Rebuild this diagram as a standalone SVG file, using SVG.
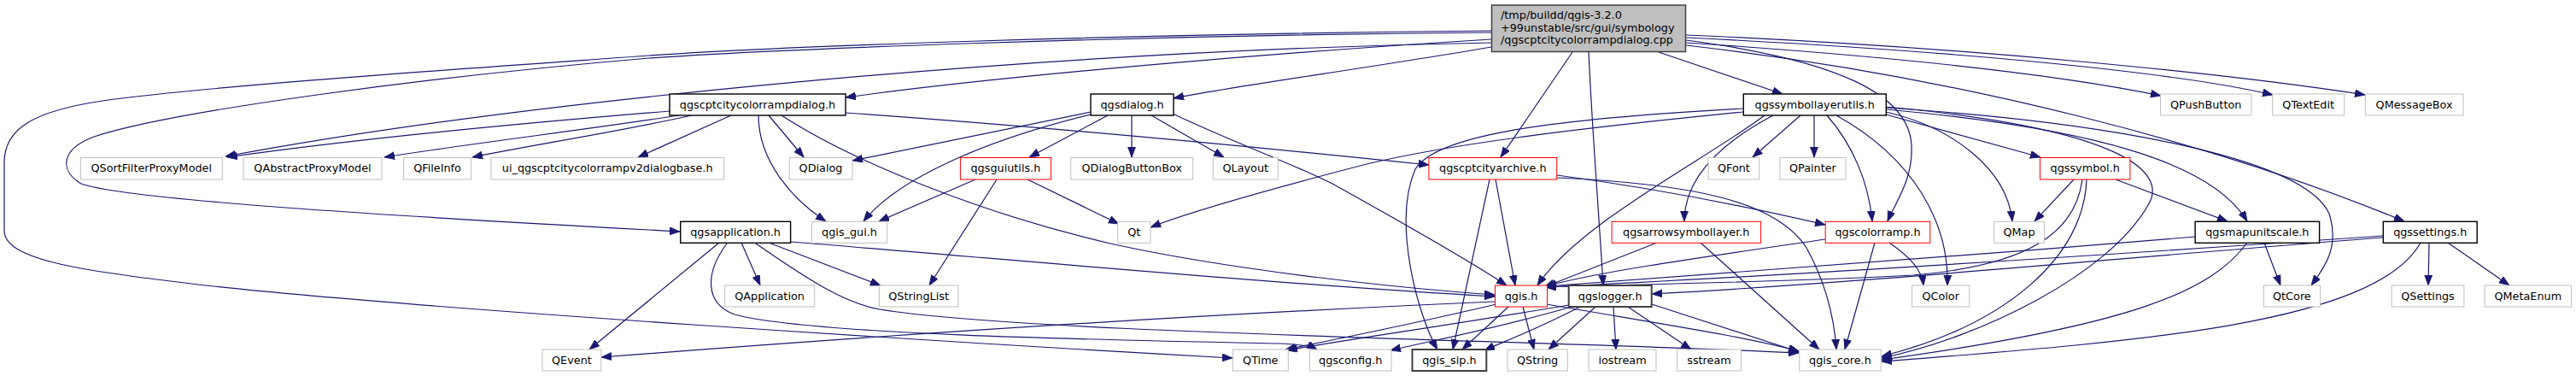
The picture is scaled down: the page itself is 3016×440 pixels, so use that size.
<svg xmlns="http://www.w3.org/2000/svg" width="3016" height="440" viewBox="0 0 3016 440">
<style>
.e{fill:none;stroke:#191970;stroke-width:1.2;marker-end:url(#a)}
.n rect{fill:#fff;stroke-width:1}
.g rect{stroke:#bfbfbf}
.k rect{stroke:#000;stroke-width:1.4}
.r rect{stroke:#ff0000}
text{font-family:"DejaVu Sans","Liberation Sans",sans-serif;font-size:12.8px;fill:#000;text-anchor:middle}
.tl text{text-anchor:start}
</style>
<defs>
<marker id="a" markerWidth="13" markerHeight="10" refX="12" refY="4.5" orient="auto" markerUnits="userSpaceOnUse"><path d="M0,0 L12,4.5 L0,9 z" fill="#191970" stroke="#191970" stroke-width="0.8"/></marker>
</defs>
<rect width="3016" height="440" fill="#fff"/>
<g id="edges">
<path class="e" d="M1746,46 C1550,58 1200,85 990,114"/>
<path class="e" d="M1746,55 C1600,80 1450,100 1374,115"/>
<path class="e" d="M1746,50 C1200,60 600,120 264,183"/>
<path class="e" d="M1746,36 C1300,40 900,55 760,65 C550,80 250,100 120,118 C40,130 5,150 5,190 L5,270 C5,305 100,318 250,335 C500,362 1100,400 1443,419"/>
<path class="e" d="M1746,38 C1300,42 900,58 760,68 C500,90 200,130 110,160 C70,175 70,200 95,215 C150,235 500,255 796,271"/>
<path class="e" d="M1841,61 L1757,184"/>
<path class="e" d="M1860,61 C1864,150 1872,250 1877,334"/>
<path class="e" d="M1942,61 L2087,110"/>
<path class="e" d="M1974,50 C2200,65 2400,85 2530,112"/>
<path class="e" d="M1974,44 C2300,60 2550,85 2661,111"/>
<path class="e" d="M1974,41 C2300,55 2600,85 2769,111"/>
<path class="e" d="M1974,53 C2300,90 2600,170 2815,259"/>
<path class="e" d="M1974,47 C2150,70 2235,110 2238,170 C2240,210 2220,235 2210,259"/>
<path class="e" d="M784,130 C600,145 400,165 266,184"/>
<path class="e" d="M795,135 C700,150 550,168 450,184"/>
<path class="e" d="M810,135 C720,155 620,170 553,184"/>
<path class="e" d="M856,135 L747,184"/>
<path class="e" d="M900,135 L941,184"/>
<path class="e" d="M888,135 C888,190 930,235 967,259"/>
<path class="e" d="M915,135 C1000,190 1150,250 1300,285 C1450,318 1650,338 1750,345"/>
<path class="e" d="M990,132 C1250,150 1500,175 1673,193"/>
<path class="e" d="M1277,131 L998,188"/>
<path class="e" d="M1277,134 C1150,165 1050,210 1011,259"/>
<path class="e" d="M1297,135 L1205,184"/>
<path class="e" d="M1325,135 L1325,184"/>
<path class="e" d="M1348,135 L1433,184"/>
<path class="e" d="M1373,133 C1440,165 1510,190 1560,215 C1650,265 1720,305 1764,334"/>
<path class="e" d="M1142,210 L1029,259"/>
<path class="e" d="M1167,210 L1088,334"/>
<path class="e" d="M1203,210 L1310,262"/>
<path class="e" d="M1751,210 L1774,334"/>
<path class="e" d="M1744,210 L1701,409"/>
<path class="e" d="M1823,205 C1950,222 2060,245 2137,263"/>
<path class="e" d="M1823,208 C1980,215 2080,235 2115,290 C2140,335 2148,380 2150,409"/>
<path class="e" d="M2041,131 C1850,150 1700,168 1600,192 C1500,218 1400,245 1347,266"/>
<path class="e" d="M2041,127 C1800,140 1680,160 1657,198 C1630,260 1660,370 1683,409"/>
<path class="e" d="M2066,135 C2000,185 1850,260 1800,334"/>
<path class="e" d="M2076,135 C2010,170 1972,210 1972,259"/>
<path class="e" d="M2108,135 L2052,184"/>
<path class="e" d="M2124,135 L2124,184"/>
<path class="e" d="M2139,135 C2170,170 2188,215 2192,259"/>
<path class="e" d="M2150,135 C2240,185 2282,260 2280,334"/>
<path class="e" d="M2208,131 C2290,150 2350,200 2356,259"/>
<path class="e" d="M2208,134 L2389,184"/>
<path class="e" d="M2208,128 C2450,150 2590,190 2631,259"/>
<path class="e" d="M2208,126 C2500,145 2700,190 2727,250 C2740,290 2720,315 2706,334"/>
<path class="e" d="M2208,125 C2480,150 2540,200 2515,240 C2470,320 2320,395 2203,419"/>
<path class="e" d="M2428,210 L2382,259"/>
<path class="e" d="M2477,210 L2608,259"/>
<path class="e" d="M2438,210 C2430,270 2380,310 2240,322 C2100,330 1900,333 1810,336"/>
<path class="e" d="M2443,210 C2440,300 2350,380 2203,417"/>
<path class="e" d="M2570,277 C2300,300 2000,322 1810,335"/>
<path class="e" d="M2651,284 L2670,334"/>
<path class="e" d="M2631,284 C2590,340 2500,380 2203,421"/>
<path class="e" d="M2844,284 L2843,334"/>
<path class="e" d="M2866,284 L2938,334"/>
<path class="e" d="M2834,284 C2780,380 2500,400 2203,423"/>
<path class="e" d="M2790,278 C2500,300 2200,330 1934,344"/>
<path class="e" d="M2790,276 C2500,296 2100,322 1810,336"/>
<path class="e" d="M2137,280 C2000,300 1870,318 1810,335"/>
<path class="e" d="M2212,284 C2235,300 2250,315 2252,334"/>
<path class="e" d="M2195,284 L2160,409"/>
<path class="e" d="M1940,284 L1808,336"/>
<path class="e" d="M1991,284 L2130,409"/>
<path class="e" d="M868,284 L890,334"/>
<path class="e" d="M900,284 L1031,334"/>
<path class="e" d="M842,284 L690,409"/>
<path class="e" d="M926,283 C1200,305 1500,333 1750,347"/>
<path class="e" d="M851,285 C825,320 825,355 860,368 C950,392 1300,398 1500,402 C1520,403 1535,405 1542,409"/>
<path class="e" d="M885,285 C950,330 990,355 1030,362 C1200,390 1800,398 2106,413"/>
<path class="e" d="M1750,353 C1400,368 1000,395 704,418"/>
<path class="e" d="M1752,356 C1650,380 1550,400 1505,409"/>
<path class="e" d="M1766,359 L1712,409"/>
<path class="e" d="M1783,359 L1796,409"/>
<path class="e" d="M1811,356 C1950,380 2050,395 2106,411"/>
<path class="e" d="M1837,357 C1700,380 1560,400 1507,410"/>
<path class="e" d="M1840,359 C1750,385 1670,400 1628,410"/>
<path class="e" d="M1850,359 C1800,385 1760,400 1738,410"/>
<path class="e" d="M1868,359 L1813,409"/>
<path class="e" d="M1889,359 L1892,409"/>
<path class="e" d="M1906,359 L1980,409"/>
<path class="e" d="M1934,356 L2107,412"/>
</g>
<g id="n_root" class="n tl"><rect x="1746.5" y="6" width="227" height="54.5" fill="#bfbfbf" style="fill:#bfbfbf;stroke:#404040;stroke-width:1.5"/><text x="1757" y="22">/tmp/buildd/qgis-3.2.0</text><text x="1757" y="36.5">+99unstable/src/gui/symbology</text><text x="1757" y="51">/qgscptcitycolorrampdialog.cpp</text></g>
<g id="n_D" class="n k"><rect x="784" y="110" width="206" height="25"/><text x="887" y="126.7">qgscptcitycolorrampdialog.h</text></g>
<g id="n_G" class="n k"><rect x="1277" y="110" width="97" height="25"/><text x="1325.5" y="126.7">qgsdialog.h</text></g>
<g id="n_S" class="n k"><rect x="2041.3" y="110" width="167" height="25"/><text x="2124.7" y="126.7">qgssymbollayerutils.h</text></g>
<g id="n_PB" class="n g"><rect x="2529.5" y="110" width="106.5" height="25"/><text x="2582.7" y="126.7">QPushButton</text></g>
<g id="n_TE" class="n g"><rect x="2660.7" y="110" width="84" height="25"/><text x="2702.7" y="126.7">QTextEdit</text></g>
<g id="n_MB" class="n g"><rect x="2769.3" y="110" width="114.7" height="25"/><text x="2826.6" y="126.7">QMessageBox</text></g>
<g id="n_QSFPM" class="n g"><rect x="94.3" y="184.5" width="166" height="25.5"/><text x="177.3" y="201.3">QSortFilterProxyModel</text></g>
<g id="n_QAPM" class="n g"><rect x="285" y="184.5" width="162" height="25.5"/><text x="366" y="201.3">QAbstractProxyModel</text></g>
<g id="n_QFI" class="n g"><rect x="472.6" y="184.5" width="79" height="25.5"/><text x="512.1" y="201.3">QFileInfo</text></g>
<g id="n_UI" class="n g"><rect x="574.9" y="184.5" width="272.7" height="25.5"/><text x="711.2" y="201.3">ui_qgscptcitycolorrampv2dialogbase.h</text></g>
<g id="n_QD" class="n g"><rect x="924.2" y="184.5" width="73.7" height="25.5"/><text x="961" y="201.3">QDialog</text></g>
<g id="n_U" class="n r"><rect x="1124.4" y="184.5" width="106.1" height="25.5"/><text x="1177.4" y="201.3">qgsguiutils.h</text></g>
<g id="n_QDBB" class="n g"><rect x="1253.7" y="184.5" width="143" height="25.5"/><text x="1325.2" y="201.3">QDialogButtonBox</text></g>
<g id="n_QL" class="n g"><rect x="1420.3" y="184.5" width="76" height="25.5"/><text x="1458.3" y="201.3">QLayout</text></g>
<g id="n_A" class="n r"><rect x="1672.9" y="184.5" width="149.8" height="25.5"/><text x="1747.8" y="201.3">qgscptcityarchive.h</text></g>
<g id="n_QF" class="n g"><rect x="2000.1" y="184.5" width="59.6" height="25.5"/><text x="2029.9" y="201.3">QFont</text></g>
<g id="n_QP" class="n g"><rect x="2083.9" y="184.5" width="77.1" height="25.5"/><text x="2122.4" y="201.3">QPainter</text></g>
<g id="n_Y" class="n r"><rect x="2388.5" y="184.5" width="105.4" height="25.5"/><text x="2441.2" y="201.3">qgssymbol.h</text></g>
<g id="n_P" class="n k"><rect x="796.7" y="259.3" width="128.9" height="25"/><text x="861.1" y="276">qgsapplication.h</text></g>
<g id="n_GUI" class="n g"><rect x="950.4" y="259.3" width="88.2" height="25"/><text x="994.5" y="276">qgis_gui.h</text></g>
<g id="n_Qt" class="n g"><rect x="1308.7" y="259.3" width="38.3" height="25"/><text x="1327.8" y="276">Qt</text></g>
<g id="n_R" class="n r"><rect x="1887.1" y="259.3" width="174.5" height="25"/><text x="1974.3" y="276">qgsarrowsymbollayer.h</text></g>
<g id="n_C" class="n r"><rect x="2137.2" y="259.3" width="122.6" height="25"/><text x="2198.5" y="276">qgscolorramp.h</text></g>
<g id="n_QMap" class="n g"><rect x="2334.5" y="259.3" width="58.9" height="25"/><text x="2364" y="276">QMap</text></g>
<g id="n_M" class="n k"><rect x="2570.1" y="259.3" width="145.5" height="25"/><text x="2642.8" y="276">qgsmapunitscale.h</text></g>
<g id="n_E" class="n k"><rect x="2790.3" y="259.3" width="109.9" height="25"/><text x="2845.2" y="276">qgssettings.h</text></g>
<g id="n_QApp" class="n g"><rect x="848.6" y="334" width="105.1" height="25"/><text x="901.1" y="350.7">QApplication</text></g>
<g id="n_QSL" class="n g"><rect x="1029.4" y="334" width="92.5" height="25"/><text x="1075.6" y="350.7">QStringList</text></g>
<g id="n_Q" class="n r"><rect x="1750.5" y="334" width="61" height="25"/><text x="1781" y="350.7">qgis.h</text></g>
<g id="n_L" class="n k"><rect x="1836.7" y="334" width="97" height="25" style="stroke:#404040;stroke-width:2"/><text x="1885.2" y="350.7">qgslogger.h</text></g>
<g id="n_QC" class="n g"><rect x="2238.6" y="334" width="67.2" height="25"/><text x="2272.2" y="350.7">QColor</text></g>
<g id="n_QtCore" class="n g"><rect x="2650.3" y="334" width="66.3" height="25"/><text x="2683.4" y="350.7">QtCore</text></g>
<g id="n_QS" class="n g"><rect x="2800.2" y="334" width="84.7" height="25"/><text x="2842.5" y="350.7">QSettings</text></g>
<g id="n_QME" class="n g"><rect x="2909.1" y="334" width="101.5" height="25"/><text x="2959.8" y="350.7">QMetaEnum</text></g>
<g id="n_QE" class="n g"><rect x="635" y="409" width="68.8" height="25"/><text x="669.4" y="425.7">QEvent</text></g>
<g id="n_QT" class="n g"><rect x="1443.3" y="409" width="65" height="25"/><text x="1475.8" y="425.7">QTime</text></g>
<g id="n_CFG" class="n g"><rect x="1533.3" y="409" width="95.7" height="25"/><text x="1581.2" y="425.7">qgsconfig.h</text></g>
<g id="n_SIP" class="n k"><rect x="1653.5" y="409" width="86.8" height="25" style="stroke:#404040;stroke-width:2"/><text x="1696.9" y="425.7">qgis_sip.h</text></g>
<g id="n_QStr" class="n g"><rect x="1765" y="409" width="70.3" height="25"/><text x="1800.1" y="425.7">QString</text></g>
<g id="n_IO" class="n g"><rect x="1860" y="409" width="79" height="25"/><text x="1899.5" y="425.7">iostream</text></g>
<g id="n_SS" class="n g"><rect x="1963.7" y="409" width="74.7" height="25"/><text x="2001" y="425.7">sstream</text></g>
<g id="n_CORE" class="n g"><rect x="2106.7" y="409" width="95.5" height="25"/><text x="2154.4" y="425.7">qgis_core.h</text></g>
</svg>
